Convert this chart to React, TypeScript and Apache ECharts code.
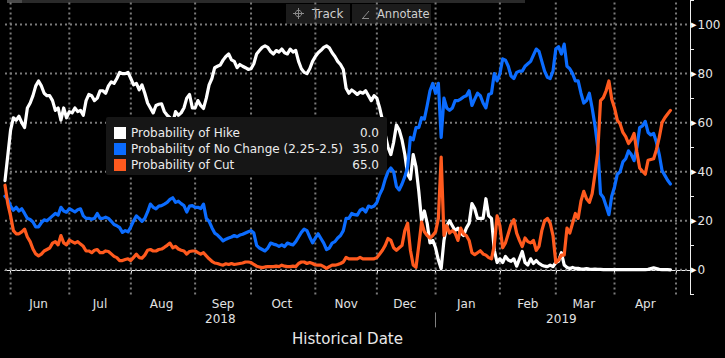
import React, { useEffect, useRef } from 'react';
import * as echarts from 'echarts';

// ---- data ----
const startDate = '2018-05-30';
const endDate = '2019-05-08';
const monthNames = ['Jan', 'Feb', 'Mar', 'Apr', 'May', 'Jun', 'Jul', 'Aug', 'Sep', 'Oct', 'Nov', 'Dec'];
const seriesNames = ['Probability of Hike', 'Probability of No Change (2.25-2.5)', 'Probability of Cut'];
const seriesColors = ['#ffffff', '#0b6cff', '#ff5a1e'];
const yLabelTicks = [0, 20, 40, 60, 80, 100];

const hike = [
  36.4, 46.6, 57, 62, 61, 62.6, 60, 58, 66, 68,
  71, 75, 77, 75, 72, 71, 71, 69, 65, 66,
  61, 66, 62, 64.5, 64, 66, 64.5, 65, 63, 69,
  71.5, 71, 69, 70, 73, 73, 72, 75, 76.6, 76,
  78, 80.5, 80, 80, 80.5, 78, 75.4, 76, 73.4, 75.4,
  72, 68, 66, 64, 67, 67.5, 67.7, 64.5, 63, 62,
  60, 64.5, 63, 64, 66, 70, 71.5, 66, 66, 69,
  67, 65.8, 70, 75.4, 78, 82.4, 83, 83.5, 85.5, 87,
  88, 85.6, 85, 82.4, 83.7, 83, 82.4, 81.7, 82, 84,
  88, 89.4, 90.7, 91.3, 90.7, 89, 88, 89.4, 88.8, 90,
  88.5, 88, 90, 88.8, 89.4, 85, 82, 80.5, 80, 82,
  85, 87, 88.5, 89.5, 90.7, 91.3, 90.5, 88.5, 87, 85,
  83.7, 81.7, 74, 72, 73.3, 72.5, 71.5, 72.5, 72, 73,
  71, 69, 71, 70, 66, 61, 55, 50, 47, 52,
  59, 57, 53, 47, 39, 37, 47, 42, 32, 20,
  24, 19, 11, 12, 9, 4, 0.5, 12, 18, 20,
  18, 16, 17, 15, 14, 17, 19, 27, 25, 21,
  21, 21, 29, 22, 21, 8, 3, 4.5, 3, 5.5,
  4, 3.5, 4.5, 1.5, 4.5, 7.5, 3, 2, 4.5, 2.6,
  3.8, 2.6, 1.9, 1.5, 1.3, 1.9, 1.3, 3, 3.5, 7,
  2, 1, 0.6, 1, 0.6, 0.6, 0.3, 0.3, 0.5, 0.3,
  0.2, 0.3, 0.2, 0.2, 0.1, 0.1, 0.1, 0.1, 0.1, 0.1,
  0.1, 0.1, 0.1, 0.1, 0.1, 0.1, 0.1, 0.1, 0.1, 0.1,
  0.2, 0.5, 0.8, 0.5, 0.2, 0.1, 0.1, 0.1, 0,
];

const noChange = [
  30, 28.7, 26, 24.3, 25.5, 24, 24.9, 23, 21, 20.5,
  19.5, 17.5, 17.5, 19.2, 20.4, 20, 21, 22, 23, 22.3,
  25.5, 24, 23.5, 24.9, 24.3, 23.6, 24.5, 24.9, 22, 21,
  21, 20.6, 21, 23, 21, 21, 21.5, 21, 19.8, 18.5,
  18, 17.2, 15.3, 16, 15.5, 17.5, 20, 22, 21, 19.8,
  21, 23.6, 26.8, 25.5, 24.9, 26, 26.2, 26.8, 27.5, 28.7,
  29.4, 27.5, 28, 27, 26.2, 23.6, 26, 26.2, 25.5, 25.5,
  25, 26.8, 21, 19.8, 17.2, 15, 14.2, 13, 11.8, 12.5,
  13, 13.4, 14, 13.5, 14.2, 14.5, 15, 15.5, 16, 15,
  10, 8.9, 8.3, 7.7, 8.9, 10.9, 10.5, 10.2, 9.6, 10.2,
  9.5, 10.9, 10.5, 10.2, 11.5, 13.4, 15.3, 16.6, 16, 13.4,
  11, 13, 14.7, 12.8, 10.9, 8.3, 8.9, 10.9, 11.5, 13,
  14, 16, 21, 21, 23, 22.5, 22.3, 24.3, 24.9, 23.6,
  26, 25.5, 26, 27.5, 30.7, 33, 37, 40, 41.5, 40,
  34, 32.6, 35, 38, 42, 54, 53, 58, 58, 62,
  61.5, 67, 73, 76, 72, 76, 54, 70, 66, 65,
  66, 69, 69, 69.6, 70.5, 71, 73, 67, 69.6, 72,
  71, 68, 66, 71.5, 72, 80, 77, 80, 86, 85.5,
  83, 79, 78, 80.5, 81, 81, 83, 84, 85, 87.5,
  90, 89, 85, 81, 78.5, 78, 81, 90, 91, 88,
  92, 83, 82, 80, 77, 77, 72, 68, 69, 72,
  66, 59, 50, 31, 29.5, 26, 22.5, 30, 33.8, 39,
  40, 44, 45.3, 48.5, 47, 44.5, 50, 58, 58.7, 60.5,
  56, 55, 55.6, 52, 47, 40.5, 38.5, 36.5, 35,
];

const cut = [
  34.5, 27, 22, 16, 14.7, 14.7, 15.5, 16.6, 13.4, 11.5,
  8.5, 6.5, 5.7, 6.4, 7.7, 8.3, 8.9, 10.9, 11.5, 10.2,
  14, 11, 10.2, 12.1, 11.5, 10.9, 11.5, 10.5, 9.6, 7.7,
  7.7, 7, 8, 8.3, 7, 7, 7.7, 7.5, 6.5, 5.5,
  5, 3.8, 3.8, 4.2, 4.5, 3.8, 5.1, 6.4, 5, 4.8,
  6, 8, 8.3, 7.7, 7.7, 8.3, 8.5, 9.2, 10, 10.9,
  9, 9.6, 8.5, 8, 7.7, 6.4, 7.5, 7.7, 7.7, 7,
  6.4, 7, 5.7, 4.5, 3.5, 2.8, 2.6, 2.2, 1.9, 2.5,
  2.2, 2.6, 2.2, 2.4, 2.6, 2.8, 3.2, 3.2, 3, 2.2,
  1.5, 1.2, 0.9, 1.2, 1.3, 1.3, 1.3, 1.5, 1.3, 1.9,
  1.5, 1.3, 1.3, 1.5, 1.3, 2.6, 3.2, 3.2, 2.6, 3,
  2.6, 2, 1.9, 1.9, 1.3, 0.6, 1.3, 1.9, 1.9, 2.2,
  2.6, 3.2, 5.1, 4.5, 4.5, 4.5, 4.5, 5.1, 4.5, 4.5,
  4.5, 4.5, 4.5, 5, 6.5, 8, 10, 12.8, 12, 9,
  8, 9, 10, 16, 19, 8, 2, 1, 10, 19.5,
  15.5, 14, 13, 14, 15.5, 21, 46, 14, 18, 15,
  16, 15, 12, 17, 14.7, 14, 12, 7, 6.2, 7,
  7.8, 6.5, 6, 5, 4.5, 10, 22, 18, 9, 11,
  14.7, 18.5, 20.5, 15, 12, 9.5, 13, 11.5, 11, 12,
  8, 9.6, 16, 20, 21, 19, 14, 3, 4, 6,
  6, 17, 15, 19, 23, 21, 28, 32, 29, 27.5,
  31, 39, 48, 69, 70.2, 73, 77, 69.6, 66, 61,
  59.5, 56, 54.3, 51.5, 53, 55.6, 48, 41.5, 40.2, 39,
  44.7, 45, 45.3, 49, 54, 60, 62, 63.5, 65,
];

const seriesData = [hike, noChange, cut];

// ---- helpers ----
function weekdayDates(start: string, end: string): string[] {
  const out: string[] = [];
  const d = new Date(start + 'T00:00:00Z');
  const e = new Date(end + 'T00:00:00Z');
  while (d <= e) {
    const wd = d.getUTCDay();
    if (wd !== 0 && wd !== 6) out.push(d.toISOString().slice(0, 10));
    d.setUTCDate(d.getUTCDate() + 1);
  }
  return out;
}

const FONT = 'DejaVu Sans';
const GRID_COLOR = '#7a7a7a';

export default function App() {
  const ref = useRef<HTMLDivElement>(null);

  useEffect(() => {
    document.body.style.margin = '0';
    document.body.style.background = '#000';
    if (!ref.current) return;
    const chart = echarts.init(ref.current, undefined, { renderer: 'svg' });

    const dates = weekdayDates(startDate, endDate);
    const last = dates.length - 1;
    const monthStarts: number[] = [];
    for (let i = 1; i < dates.length; i++) {
      if (dates[i].slice(5, 7) !== dates[i - 1].slice(5, 7)) monthStarts.push(i);
    }
    const monthStartSet = new Set(monthStarts);
    const monthLabelSet = new Set<number>();
    for (let k = 0; k + 1 < monthStarts.length; k++) {
      monthLabelSet.add(Math.floor((monthStarts[k] + monthStarts[k + 1]) / 2));
    }
    const yearStarts = monthStarts.filter((i) => dates[i].slice(5, 7) === '01');
    const yearStartSet = new Set(yearStarts);
    const yearBounds = [0, ...yearStarts, last];
    const yearLabelSet = new Set<number>();
    for (let k = 0; k + 1 < yearBounds.length; k++) {
      yearLabelSet.add(Math.floor((yearBounds[k] + yearBounds[k + 1]) / 2));
    }

    const lastValues = seriesData.map((s) => s[s.length - 1].toFixed(1));

    const gridLineStyle = { color: GRID_COLOR, width: 2, type: [2, 3] };

    // grid lines drawn as plain line series through the chart's own scales
    const hGridSeries = yLabelTicks.map((v) => ({
      type: 'line',
      silent: true,
      symbol: 'none',
      showSymbol: false,
      z: 1,
      emphasis: { disabled: true },
      lineStyle: gridLineStyle,
      data: [
        [0, v],
        [last, v],
      ],
    }));
    const vGridSeries = monthStarts.map((i) => ({
      type: 'line',
      silent: true,
      symbol: 'none',
      showSymbol: false,
      z: 1,
      emphasis: { disabled: true },
      lineStyle: gridLineStyle,
      data: [
        [i, -10],
        [i, 110],
      ],
    }));

    const option: any = {
      animation: false,
      backgroundColor: '#000000',
      textStyle: { fontFamily: FONT },
      grid: { left: 5, right: 35, top: -18.8, bottom: 63.6 },
      legend: {
        orient: 'vertical',
        left: 106,
        top: 117,
        padding: [8, 8, 2, 8],
        itemGap: 0,
        itemWidth: 12,
        itemHeight: 12,
        backgroundColor: '#161616',
        borderRadius: 2,
        selectedMode: false,
        data: seriesNames.map((n) => ({ name: n, icon: 'rect' })),
        formatter: (name: string) => `{n|${name}}{v|${lastValues[seriesNames.indexOf(name)]}}`,
        textStyle: {
          color: '#ececec',
          fontFamily: FONT,
          fontSize: 12,
          lineHeight: 16,
          rich: {
            n: { width: 218, color: '#ececec', fontFamily: FONT, fontSize: 12, lineHeight: 16 },
            v: { width: 30, align: 'right', color: '#ececec', fontFamily: FONT, fontSize: 12, lineHeight: 16 },
          },
        },
      },
      xAxis: [
        {
          type: 'category',
          data: dates,
          boundaryGap: false,
          axisLine: { show: true, lineStyle: { color: '#eeeeee', width: 1 } },
          axisTick: { show: true, interval: (i: number) => monthStartSet.has(i), length: 4, lineStyle: { color: '#eeeeee' } },
          axisLabel: {
            interval: (i: number) => monthLabelSet.has(i),
            formatter: (v: string) => monthNames[parseInt(v.slice(5, 7), 10) - 1],
            color: '#e2e2e2',
            fontSize: 12,
            fontFamily: FONT,
            margin: 4,
          },
          splitLine: { show: false },
          name: 'Historical Date',
          nameLocation: 'middle',
          nameGap: 45,
          nameTextStyle: { color: '#e8e8e8', fontSize: 15, fontFamily: FONT, verticalAlign: 'middle' },
        },
        {
          type: 'category',
          data: dates,
          boundaryGap: false,
          position: 'bottom',
          offset: 18,
          axisLine: { show: false },
          axisTick: { show: true, interval: (i: number) => yearStartSet.has(i), length: 15, lineStyle: { color: '#808080' } },
          axisLabel: {
            interval: (i: number) => yearLabelSet.has(i),
            formatter: (v: string) => v.slice(0, 4),
            color: '#e2e2e2',
            fontSize: 12,
            fontFamily: FONT,
            margin: 1,
          },
          splitLine: { show: false },
        },
      ],
      yAxis: {
        type: 'value',
        position: 'right',
        min: -10,
        max: 110,
        interval: 10,
        axisLine: { show: true, lineStyle: { color: '#eeeeee', width: 1 } },
        axisTick: { show: true, length: 4, lineStyle: { color: '#eeeeee' } },
        splitLine: { show: false },
        axisLabel: {
          margin: 1,
          formatter: (v: number) => (yLabelTicks.indexOf(v) >= 0 ? `{t|▸}{n|${v}}` : ''),
          rich: {
            t: { fontSize: 11, color: '#ffffff', fontFamily: FONT, padding: [0, 1, 0, 0] },
            n: { fontSize: 12, color: '#e6e6e6', fontFamily: FONT },
          },
        },
      },
      graphic: [
        { type: 'rect', shape: { x: 7, y: 0, width: 518, height: 3 }, style: { fill: '#2a2a2a' }, silent: true },
        { type: 'rect', shape: { x: 7, y: 0, width: 15, height: 3 }, style: { fill: '#4a4a4a' }, silent: true },
        { type: 'rect', shape: { x: 286, y: 4, width: 64, height: 20 }, style: { fill: '#1c1c1c' }, silent: true },
        { type: 'circle', shape: { cx: 298.5, cy: 13.5, r: 3.2 }, style: { fill: 'none', stroke: '#8a8a8a', lineWidth: 1 }, silent: true },
        { type: 'line', shape: { x1: 293, y1: 13.5, x2: 304, y2: 13.5 }, style: { stroke: '#8a8a8a', lineWidth: 1 }, silent: true },
        { type: 'line', shape: { x1: 298.5, y1: 8, x2: 298.5, y2: 19 }, style: { stroke: '#8a8a8a', lineWidth: 1 }, silent: true },
        { type: 'text', x: 312, y: 14, style: { text: 'Track', fill: '#cfcfcf', font: `12px "${FONT}"`, verticalAlign: 'middle' }, silent: true },
        { type: 'rect', shape: { x: 352, y: 4, width: 79, height: 20 }, style: { fill: '#1c1c1c' }, silent: true },
        { type: 'line', shape: { x1: 363, y1: 18, x2: 369, y2: 11 }, style: { stroke: '#8a8a8a', lineWidth: 1 }, silent: true },
        { type: 'line', shape: { x1: 362, y1: 18.5, x2: 369, y2: 18.5 }, style: { stroke: '#8a8a8a', lineWidth: 1 }, silent: true },
        { type: 'text', x: 377, y: 14, style: { text: 'Annotate', fill: '#cfcfcf', font: `11.5px "${FONT}"`, verticalAlign: 'middle' }, silent: true },
      ],
      series: [
        ...hGridSeries,
        ...vGridSeries,
        ...seriesNames.map((name, k) => ({
          name,
          type: 'line',
          data: seriesData[k],
          xAxisIndex: 0,
          yAxisIndex: 0,
          showSymbol: false,
          symbol: 'none',
          emphasis: { disabled: true },
          lineStyle: { color: seriesColors[k], width: 3.2, join: 'round', cap: 'round' },
          itemStyle: { color: seriesColors[k] },
          z: 3 + k,
        })),
      ],
    };

    chart.setOption(option);
    return () => chart.dispose();
  }, []);

  return (
    <div
      ref={ref}
      style={{ position: 'absolute', left: 0, top: 0, width: 725, height: 358, background: '#000' }}
    />
  );
}
